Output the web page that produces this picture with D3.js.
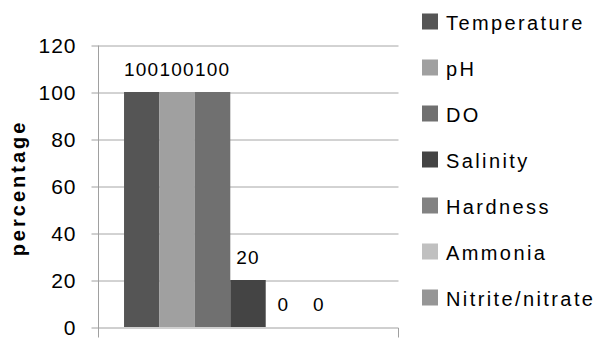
<!DOCTYPE html>
<html>
<head>
<meta charset="utf-8">
<script src="https://cdn.jsdelivr.net/npm/d3@7"></script>
<style>
  html, body { margin: 0; padding: 0; background: #fff; }
  svg { display: block; }
  text { font-family: "Liberation Sans", Arial, sans-serif; fill: #000; }
</style>
</head>
<body>
<svg id="chart" width="598" height="338"></svg>
<script>
const categories = [""];
const seriesNames = ["Temperature", "pH", "DO", "Salinity", "Hardness", "Ammonia", "Nitrite/nitrate"];
const seriesValues = [100, 100, 100, 20, 0, 0, null];
const seriesColors = ["#555555", "#a0a0a0", "#707070", "#444444", "#828282", "#c0c0c0", "#969696"];
const yTicks = [0, 20, 40, 60, 80, 100, 120];

const svg = d3.select("#chart");
const plotLeft = 98, plotRight = 398, plotTop = 45, plotBottom = 327;

const y = d3.scaleLinear().domain([0, 120]).range([plotBottom, plotTop]);
const x0 = d3.scaleBand().domain(categories).range([plotLeft, plotRight]).paddingInner(0).paddingOuter(0.105);
const x1 = d3.scaleBand().domain(seriesNames).range([0, x0.bandwidth()]).padding(0);

// gridlines
svg.append("g")
  .attr("transform", `translate(${plotLeft + 0.5},0.5)`)
  .call(d3.axisLeft(y).tickValues(yTicks.filter(d => d > 0)).tickSize(-(plotRight - plotLeft)).tickFormat(""))
  .call(g => g.select(".domain").remove())
  .call(g => g.selectAll("line").attr("stroke", "#a6a6a6"));

// bars
const data = seriesNames.map((n, i) => ({ name: n, value: seriesValues[i], color: seriesColors[i] }));
const grp = svg.append("g").attr("transform", `translate(${x0(categories[0])},0)`);
grp.selectAll("rect").data(data.filter(d => d.value !== null && d.value > 0)).join("rect")
  .attr("x", d => x1(d.name))
  .attr("width", x1.bandwidth())
  .attr("y", d => y(d.value))
  .attr("height", d => y(0) - y(d.value))
  .attr("fill", d => d.color);

// data labels
grp.selectAll("text.lbl").data(data.filter(d => d.value !== null)).join("text")
  .attr("class", "lbl")
  .attr("x", d => x1(d.name) + x1.bandwidth() / 2)
  .attr("y", d => y(d.value) - 16)
  .attr("text-anchor", "middle")
  .attr("font-size", 19)
  .attr("letter-spacing", 1.2)
  .text(d => d.value);

// y axis
svg.append("g")
  .attr("transform", `translate(${plotLeft + 0.5},0.5)`)
  .call(d3.axisLeft(y).tickValues(yTicks).tickSize(7).tickSizeOuter(0).tickPadding(15))
  .call(g => g.select(".domain").attr("stroke", "#a0a0a0").attr("d", `M0,${plotTop}V${plotBottom + 9}`))
  .call(g => g.selectAll(".tick line").attr("stroke", "#a0a0a0"))
  .call(g => g.selectAll(".tick text").attr("font-size", 21).attr("letter-spacing", 1)
    .attr("font-family", "Liberation Sans, Arial, sans-serif").attr("fill", "#000"));

// x axis
svg.append("g")
  .attr("transform", `translate(0,${plotBottom + 0.5})`)
  .call(d3.axisBottom(x0).tickSize(0).tickSizeOuter(10).tickFormat(""))
  .call(g => g.select(".domain").attr("stroke", "#a0a0a0"));

// y axis title
svg.append("text")
  .attr("transform", `translate(25,188) rotate(-90)`)
  .attr("text-anchor", "middle")
  .attr("font-size", 20)
  .attr("font-weight", "bold")
  .attr("letter-spacing", 3)
  .text("percentage");

// legend
const leg = svg.append("g").attr("transform", "translate(422,0)");
const rows = leg.selectAll("g").data(data).join("g")
  .attr("transform", (d, i) => `translate(0,${21.5 + i * 46})`);
rows.append("rect").attr("x", 0).attr("y", -8).attr("width", 16).attr("height", 16).attr("fill", d => d.color);
rows.append("text").attr("x", 24).attr("y", 8.5).attr("font-size", 20).attr("letter-spacing", 2.4).text(d => d.name);
</script>
</body>
</html>
